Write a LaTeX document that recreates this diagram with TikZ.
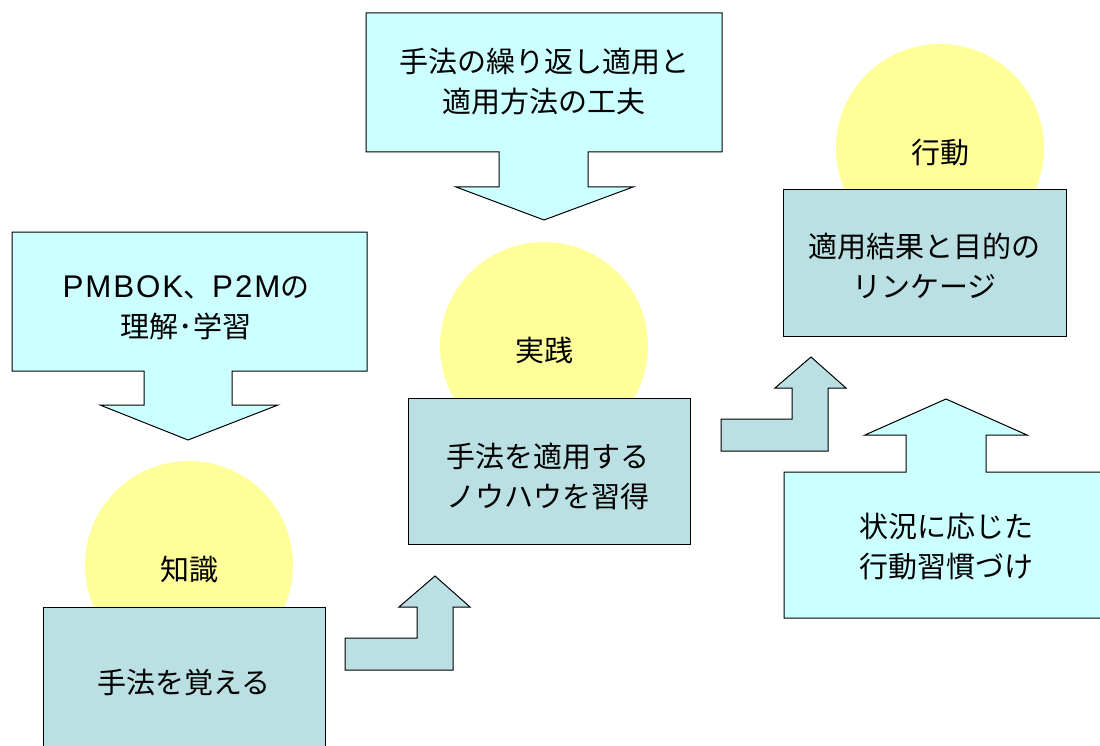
\documentclass[tikz,border=0pt]{standalone}
\usepackage{fontspec}
\setmainfont{Noto Sans CJK JP}
\newfontfamily\latfont[LetterSpace=6,Scale=1.08]{Liberation Sans}
\definecolor{calloutc}{HTML}{CCFFFF}
\definecolor{boxc}{HTML}{BBE0E3}
\definecolor{sunc}{HTML}{FFFF99}
\begin{document}
\begin{tikzpicture}[x=1pt,y=-1pt,
  lbl/.style={font=\fontsize{29}{40}\selectfont, align=center, inner sep=0pt},
  calloutshape/.style={draw=black, fill=calloutc, line width=1pt, line join=miter},
  bentshape/.style={draw=black, fill=boxc, line width=1pt, line join=miter},
  sunshape/.style={circle, fill=sunc, draw=none, minimum size=208pt, inner sep=0pt},
  boxshape/.style={draw=black, fill=boxc, line width=1pt, inner sep=0pt}]
\useasboundingbox (0,0) rectangle (1100,746);
\clip (0,0) rectangle (1100,746);
\fill[white] (0,0) rectangle (1100,746);

% callouts
\draw[calloutshape] (12,232) -- (367,232) -- (367,371) -- (232,371) -- (232,405) -- (278,405) -- (188,440) -- (100,405) -- (144,405) -- (144,371) -- (12,371) -- cycle;
\node[lbl] (t1) at (186,308) {{\latfont PMBOK}、{\latfont P2M}の\\理解･学習};

\draw[calloutshape] (366,13) -- (722,13) -- (722,152) -- (588,152) -- (588,187) -- (633,187) -- (544,220) -- (456,187) -- (499,187) -- (499,152) -- (366,152) -- cycle;
\node[lbl] (t2) at (544,82) {手法の繰り返し適用と\\適用方法の工夫};

\draw[calloutshape] (784,472) -- (906,472) -- (906,435) -- (865,435) -- (946,399) -- (1027,435) -- (986,435) -- (986,472) -- (1108,472) -- (1108,618) -- (784,618) -- cycle;
\node[lbl] (t3) at (946,547) {状況に応じた\\行動習慣づけ};

% suns
\node[sunshape] (c1) at (189,565) {};
\node[sunshape] (c2) at (544,346) {};
\node[sunshape] (c3) at (940,148) {};
\node[lbl] (k1) at (189,570) {知識};
\node[lbl] (k2) at (544,350) {実践};
\node[lbl] (k3) at (940,153) {行動};

% boxes
\node[boxshape, minimum width=282pt, minimum height=152pt] (b1) at (184,683) {};
\node[lbl] (bt1) at (184,683) {手法を覚える};
\node[boxshape, minimum width=282pt, minimum height=146pt] (b2) at (549,471) {};
\node[lbl] (bt2) at (548,477) {手法を適用する\\ノウハウを習得};
\node[boxshape, minimum width=283pt, minimum height=146pt] (b3) at (924.5,263) {};
\node[lbl] (bt3) at (924.5,266) {適用結果と目的の\\リンケージ};

% bent arrows
\draw[bentshape] (345,638) -- (417,638) -- (417,607) -- (399,607) -- (435,576) -- (470,607) -- (453,607) -- (453,670) -- (345,670) -- cycle;
\draw[bentshape] (721,419) -- (792,419) -- (792,388) -- (775,388) -- (811,357) -- (846,388) -- (828,388) -- (828,451) -- (721,451) -- cycle;
\end{tikzpicture}
\end{document}
